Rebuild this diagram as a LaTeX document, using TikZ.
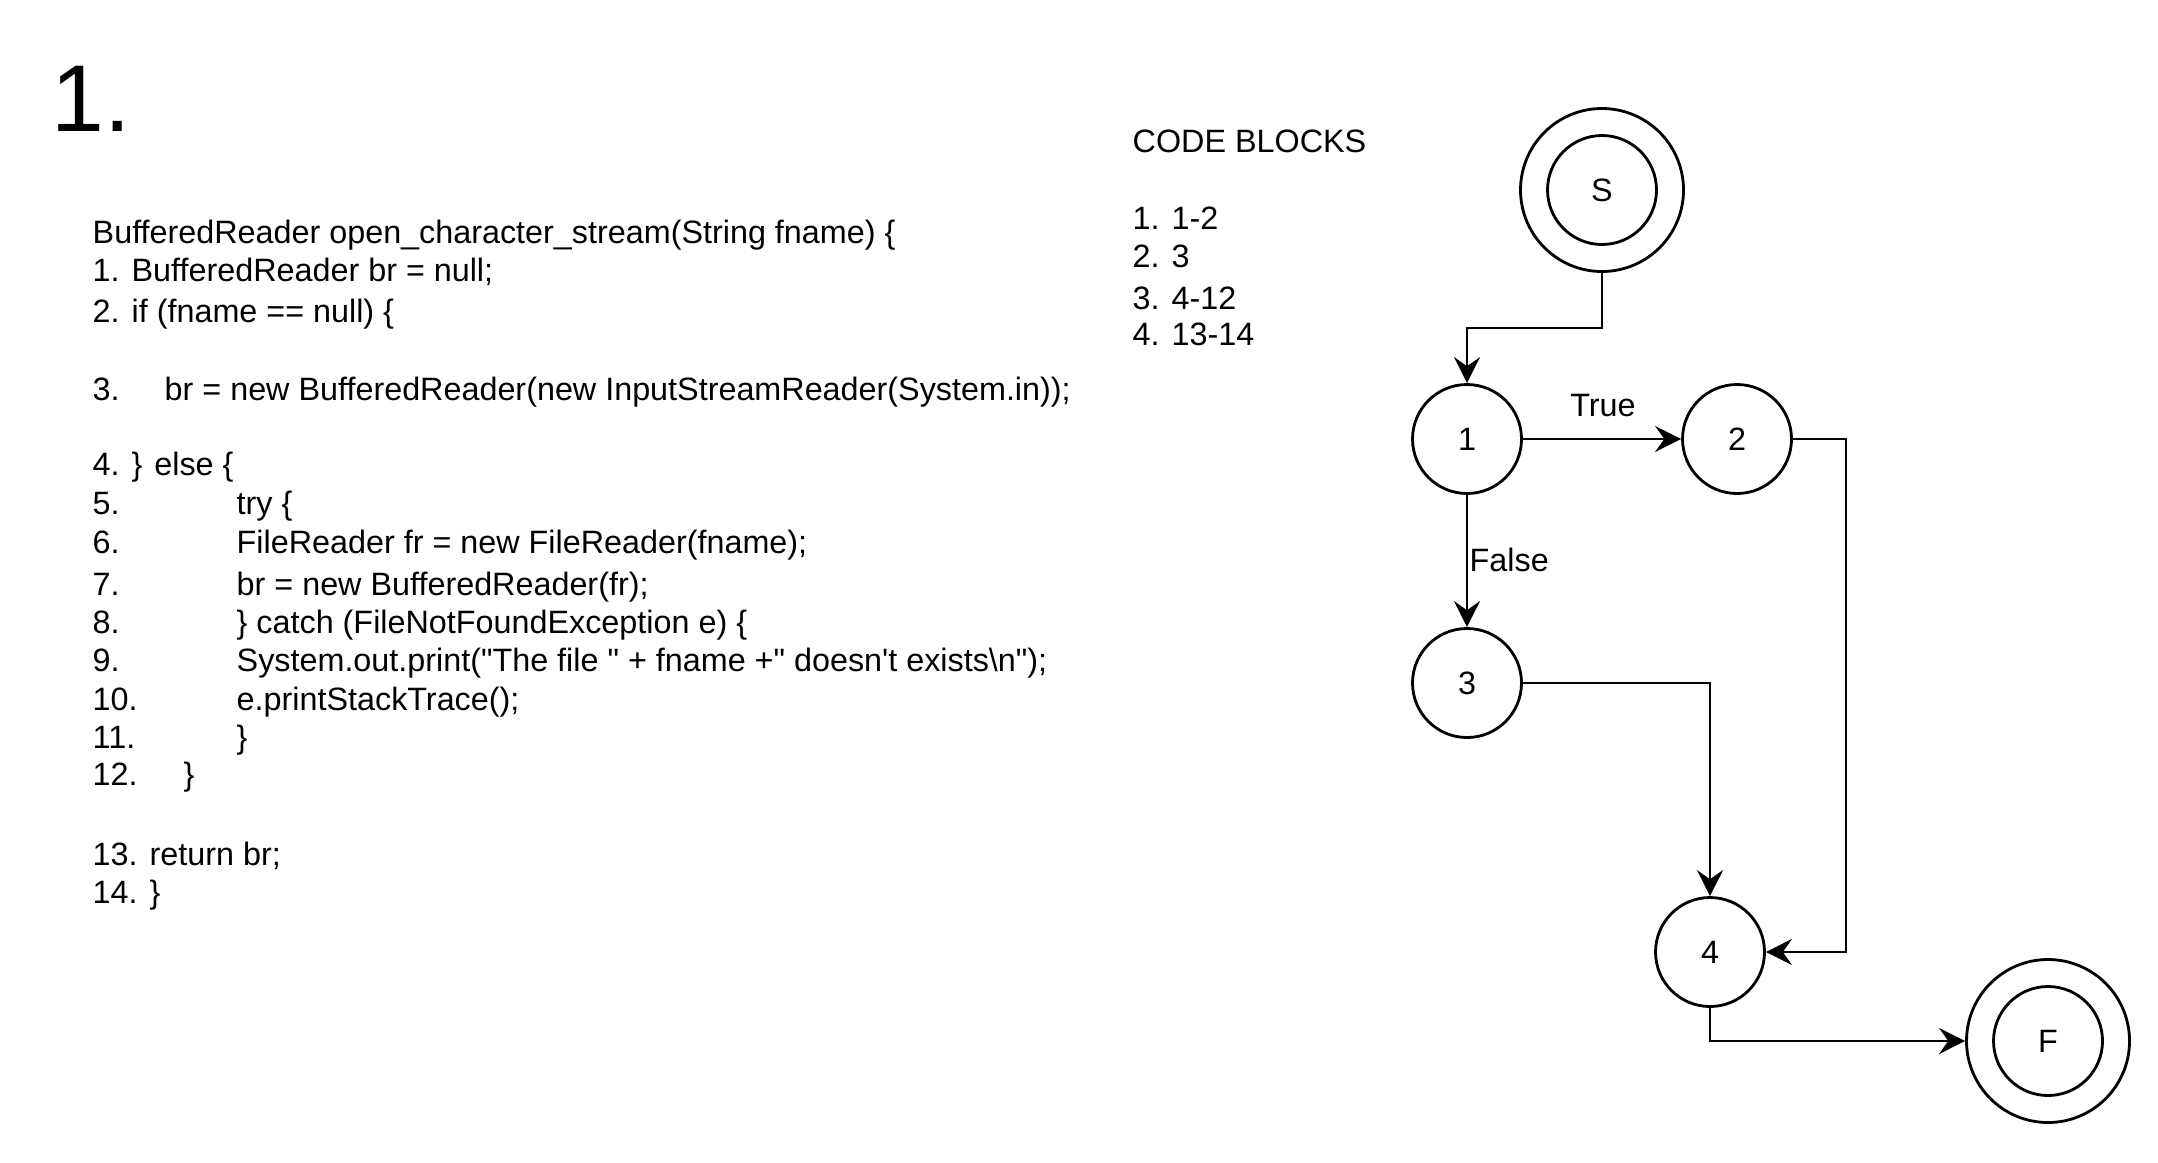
\documentclass[tikz,border=0pt]{standalone}
\usepackage{fontspec}
\newfontfamily\helv{Liberation Sans}
\usepackage{tikz}
\usetikzlibrary{arrows.meta}

\begin{document}
\begin{tikzpicture}[x=0.1mm, y=-0.1mm,
    every node/.style={font=\helv\fontsize{9.2}{11}\selectfont, inner sep=0pt},
    codeline/.style={anchor=base west},
    block/.style={circle, draw=black, line width=0.8pt, minimum size=10.9mm},
    terminal/.style={circle, draw=black, line width=0.8pt, minimum size=16.3mm},
    flow/.style={line width=0.8pt, -{Stealth[length=7.4pt, width=7.4pt, inset=2.6pt]}}]
    \useasboundingbox (0,0) rectangle (2158,1162);

    \node (title) [anchor=base west, font=\helv\fontsize{27}{32}\selectfont] at (51,131) {1.};

    \node (head) [codeline] at (92,243) {BufferedReader open\_character\_stream(String fname) \{};
    \node (ln1) [codeline] at (92,281) {1. BufferedReader br = null;};
    \node (ln2) [codeline] at (92,322) {2. if (fname == null) \{};
    \node (ln3) [codeline] at (92,400) {3.};
    \node (ln3b) [codeline] at (164,400) {br = new BufferedReader(new InputStreamReader(System.in));};
    \node (ln4) [codeline] at (92,475) {4. \} else \{};
    \node (ln5) [codeline] at (92,514) {5.};
    \node (ln5b) [codeline] at (236,514) {try \{};
    \node (ln6) [codeline] at (92,553) {6.};
    \node (ln6b) [codeline] at (236,553) {FileReader fr = new FileReader(fname);};
    \node (ln7) [codeline] at (92,595) {7.};
    \node (ln7b) [codeline] at (236,595) {br = new BufferedReader(fr);};
    \node (ln8) [codeline] at (92,633) {8.};
    \node (ln8b) [codeline] at (236,633) {\} catch (FileNotFoundException e) \{};
    \node (ln9) [codeline] at (92,671) {9.};
    \node (ln9b) [codeline] at (236,671) {System.out.print("The file " + fname +" doesn't exists\textbackslash n");};
    \node (ln10) [codeline] at (92,710) {10.};
    \node (ln10b) [codeline] at (236,710) {e.printStackTrace();};
    \node (ln11) [codeline] at (92,748) {11.};
    \node (ln11b) [codeline] at (236,748) {\}};
    \node (ln12) [codeline] at (92,785) {12.};
    \node (ln12b) [codeline] at (183,785) {\}};
    \node (ln13) [codeline] at (92,865) {13. return br;};
    \node (ln14) [codeline] at (92,903) {14. \}};

    \node (blocks) [codeline] at (1132,152) {CODE BLOCKS};
    \node (blk1) [codeline] at (1132,229) {1. 1-2};
    \node (blk2) [codeline] at (1132,267) {2. 3};
    \node (blk3) [codeline] at (1132,309) {3. 4-12};
    \node (blk4) [codeline] at (1132,345) {4. 13-14};

    \node (S) [terminal] at (1602,190) {S};
    \node (Sin) [block] at (1602,190) {};
    \node (n1) [block] at (1467,439) {1};
    \node (n2) [block] at (1737,439) {2};
    \node (n3) [block] at (1467,683) {3};
    \node (n4) [block] at (1710,952) {4};
    \node (F) [terminal] at (2048,1041) {F};
    \node (Fin) [block] at (2048,1041) {};

    \coordinate (bendS) at (1602,328);
    \coordinate (bend2) at (1846,439);

    \draw[flow] (S) -- (bendS) -| (n1);
    \draw[flow] (n1) -- (n2);
    \draw[flow] (n1) -- (n3);
    \draw[flow] (n3) -| (n4);
    \draw[flow] (n2) -- (bend2) |- (n4);
    \draw[flow] (n4) |- (F);

    \node (true) [anchor=base] at (1603,416) {True};
    \node (false) [anchor=base west] at (1469,571) {False};
\end{tikzpicture}
\end{document}
